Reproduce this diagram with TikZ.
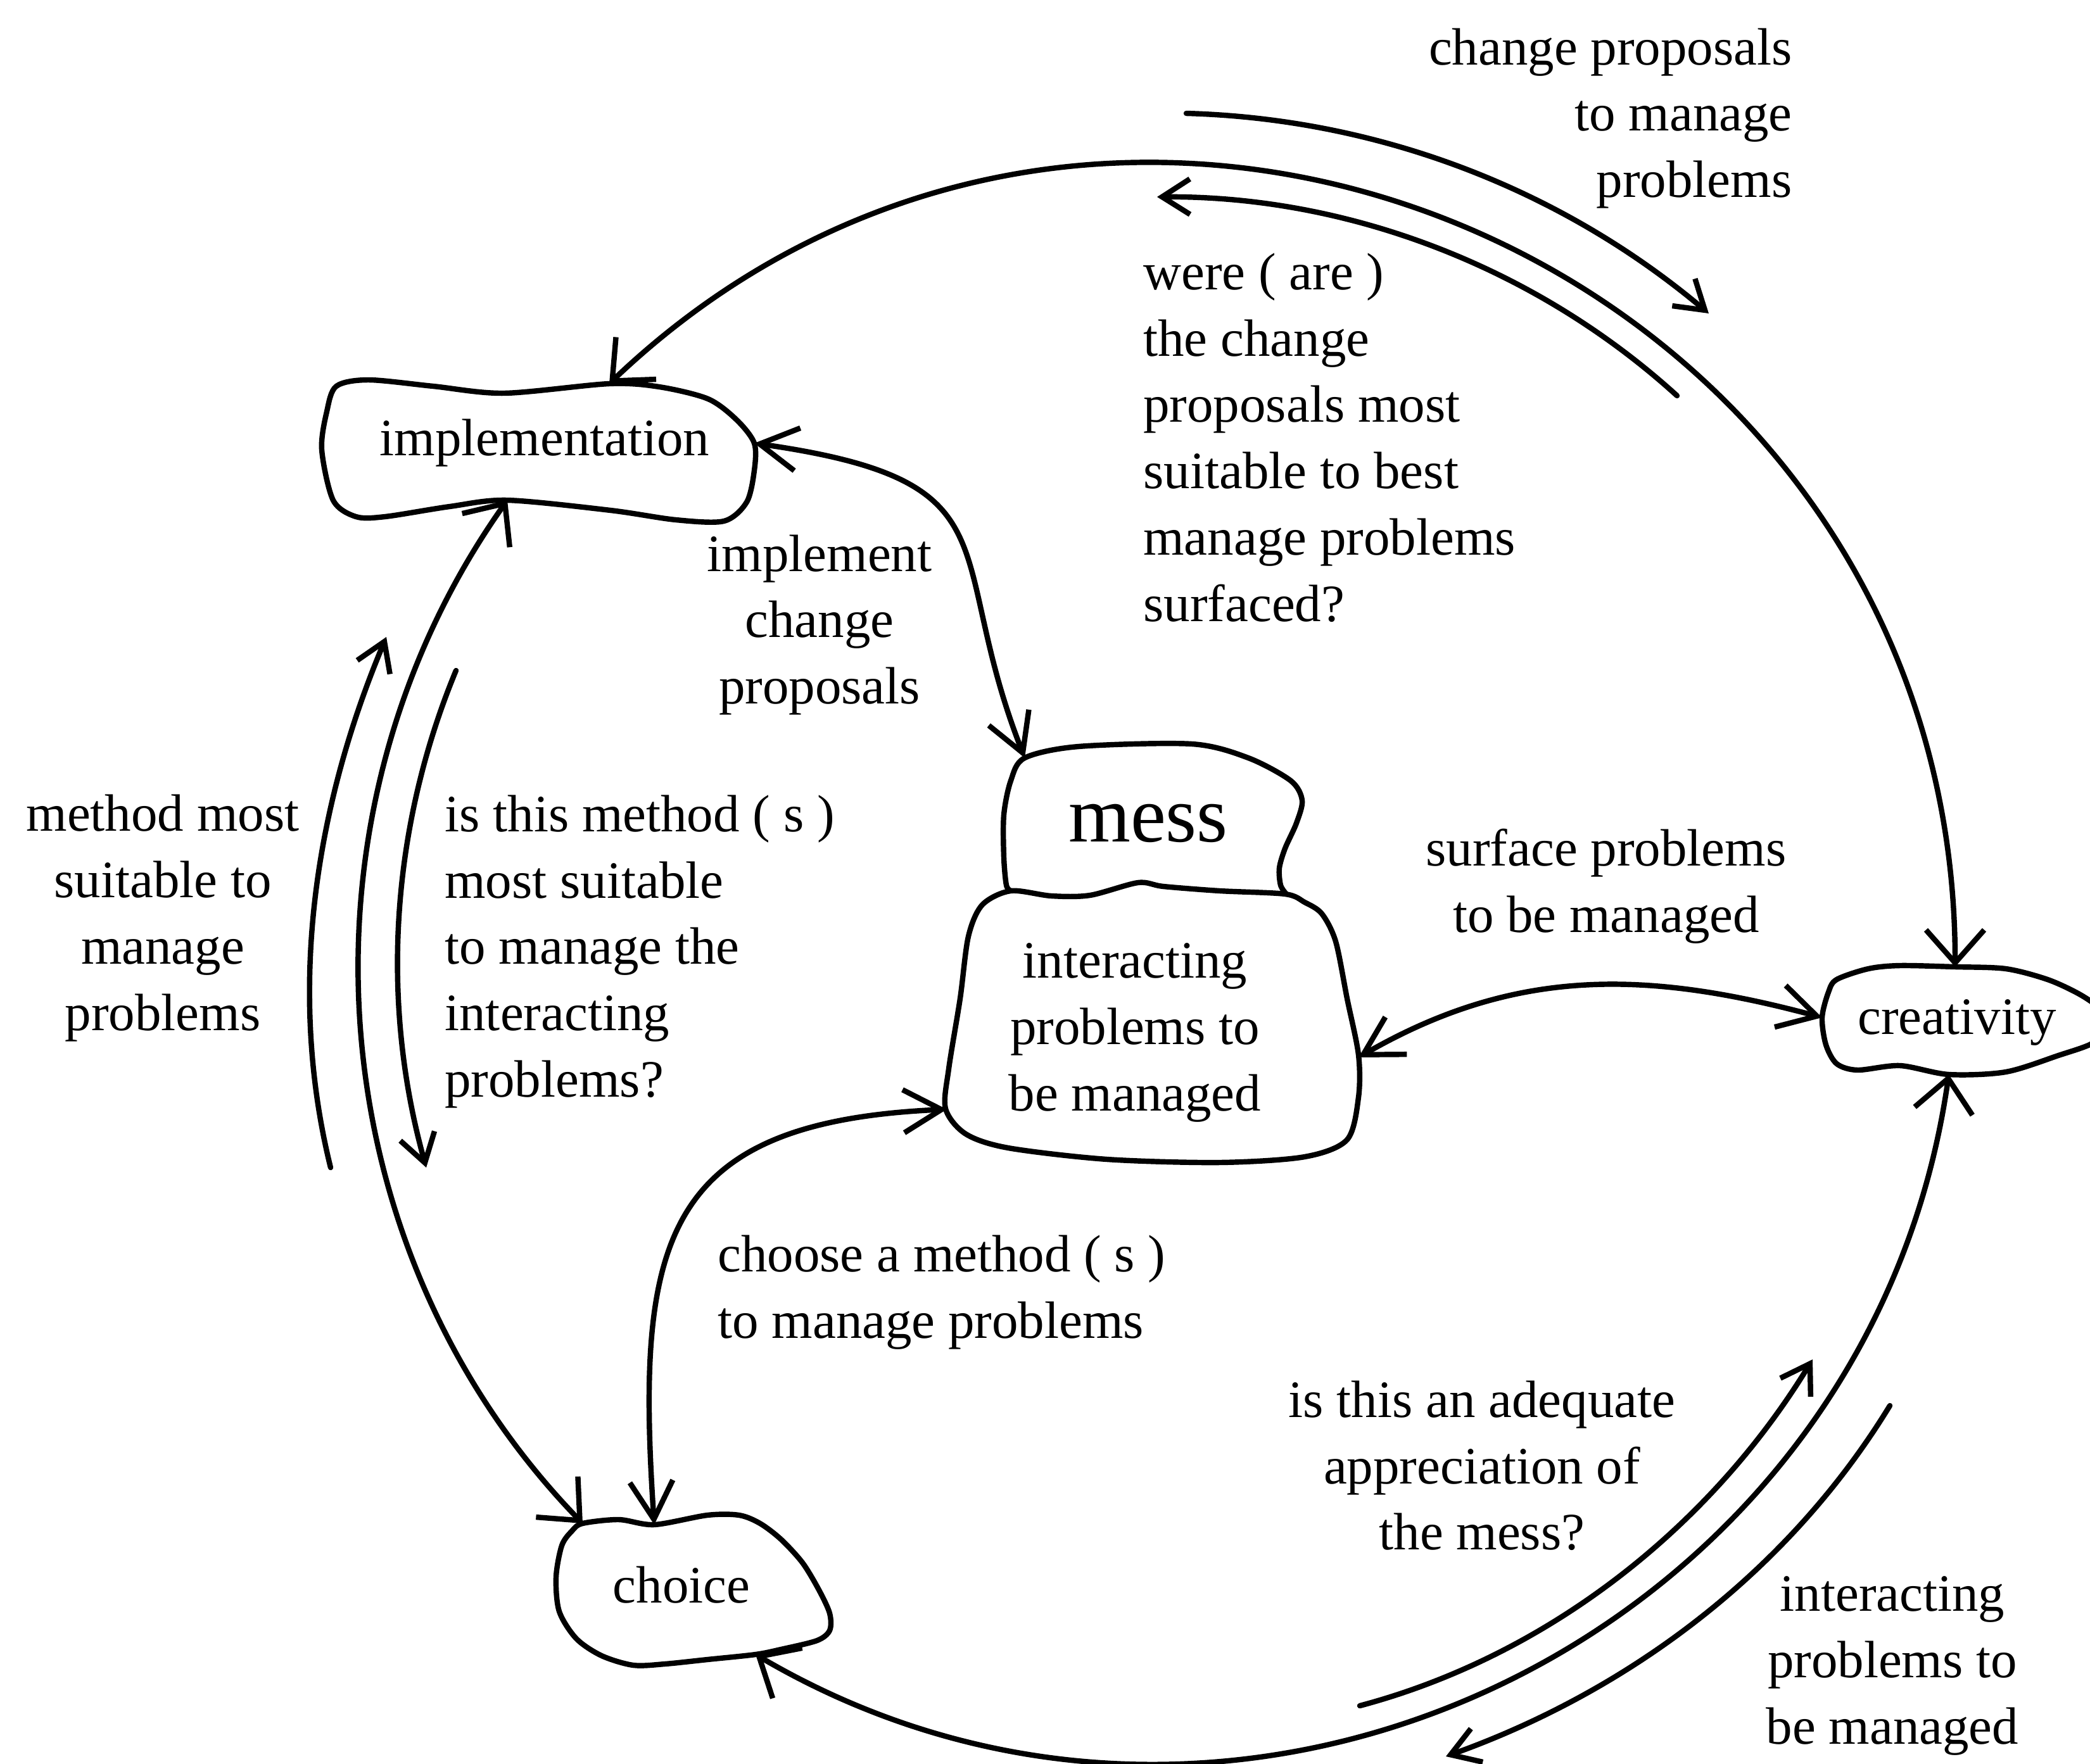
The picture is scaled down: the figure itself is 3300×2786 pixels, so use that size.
\documentclass[tikz,border=0pt]{standalone}
\usepackage{fontspec}
\setmainfont{Liberation Serif}
\usetikzlibrary{arrows.meta}

\tikzset{
  lbl/.style={inner sep=0pt, font=\fontsize{11.8}{14.9}\selectfont},
  blob/.style={line width=1.2pt, line join=round},
  ring/.style={line width=1.2pt, line cap=round, <->, >={Straight Barb[length=2.6mm,width=4.6mm]}},
  link/.style={line width=1.2pt, line cap=round, <->, >={Straight Barb[length=3mm,width=3.4mm]}},
  flow/.style={line width=1.2pt, line cap=round, ->, >={Straight Barb[length=2.2mm,width=2.8mm]}},
}

\begin{document}
\begin{tikzpicture}[x=0.05mm,y=-0.05mm]
\useasboundingbox (0,0) rectangle (3300,2786);

% Text Node
\node[lbl] (impl) at (860,700) {implementation};
% Text Node
\node[lbl,font=\fontsize{17.9}{20}\selectfont] (mess) at (1813,1300) {mess};
% Text Node
\node[lbl,align=center] (probs) at (1792,1631) {interacting\\problems to\\be managed};
% Text Node
\node[lbl] (creat) at (3090,1615) {creativity};
% Text Node
\node[lbl] (choice) at (1076,2503) {choice};

%Shape: Blob [id:implementation]
\begin{scope}[shift={(impl)}]
\draw[blob] plot[smooth cycle] coordinates {(-329,-90) (-278,-100) (-176,-90) (-64,-79) (102,-94) (181,-89) (258,-70) (303,-37) (331,0) (331,43) (319,93) (283,123) (207,121) (104,106) (-59,90) (-150,100) (-252,116) (-298,116) (-334,90) (-352,10) (-344,-50)};
\coordinate (impl-n) at (102,-94);
\coordinate (impl-e) at (331,0);
\coordinate (impl-s) at (-59,90);
\end{scope}

%Shape: Blob [id:mess]
\begin{scope}[shift={(mess)}]
\draw[blob] plot[smooth] coordinates {(-217,107) (-224,98) (-228,54) (-228,-13) (-217,-67) (-195,-103) (-110,-121) (69,-125) (158,-103) (225,-67) (243,-36) (234,0) (216,40) (207,71) (209,98) (218,112)};
\draw[blob] plot[smooth cycle] coordinates {(-217,107) (-153,115) (-92,114) (-16,94) (24,100) (113,107) (216,112) (247,125) (274,143) (296,187) (314,277) (332,366) (332,433) (314,500) (247,527) (113,536) (-65,531) (-221,513) (-288,491) (-320,451) (-315,388) (-297,277) (-284,179) (-262,129)};
\coordinate (mess-nw) at (-195,-103);
\coordinate (mess-sw) at (-318,452);
\coordinate (mess-e) at (332,370);
\end{scope}

%Shape: Blob [id:creativity]
\begin{scope}[shift={(creat)}]
\draw[blob] plot[smooth cycle] coordinates {(-190,-68) (-140,-85) (-90,-90) (-3,-88) (77,-85) (143,-68) (193,-45) (225,-22) (235,5) (215,32) (160,52) (77,78) (-13,82) (-90,68) (-157,75) (-190,65) (-207,35) (-213,-8) (-203,-48)};
\coordinate (creat-n) at (-3,-88);
\coordinate (creat-w) at (-213,-8);
\coordinate (creat-s) at (-13,82);
\end{scope}

%Shape: Blob [id:choice]
\begin{scope}[shift={(choice)}]
\draw[blob] plot[smooth cycle] coordinates {(-156,-97) (-99,-103) (-43,-95) (41,-110) (91,-110) (124,-97) (157,-72) (191,-35) (217,8) (234,45) (234,72) (214,88) (157,102) (117,110) (41,118) (-26,125) (-76,127) (-126,112) (-166,85) (-193,42) (-198,-12) (-189,-62) (-173,-85)};
\coordinate (choice-nw) at (-156,-97);
\coordinate (choice-n) at (-43,-95);
\coordinate (choice-se) at (117,110);
\end{scope}

%Curve Lines [id:ring]
\draw[ring] (impl-n) to[out=43.6,in=90,looseness=1.22] (creat-n);
\draw[ring] (impl-s) to[out=234.7,in=134.1,looseness=0.96] (choice-nw);
\draw[ring] (choice-se) to[out=329.6,in=261.9,looseness=1.09] (creat-s);

%Curve Lines [id:links]
\draw[link] (impl-e) .. controls +(420,60) and +(-130,-330) .. (mess-nw);
\draw[link] (mess-sw) .. controls +(-450,20) and +(-30,-450) .. (choice-n);
\draw[link] (mess-e) to[out=30,in=165] (creat-w);

% flow arrows beside the ring
\coordinate (cp-a) at (1873,179);  \coordinate (cp-b) at (2698,495);
\coordinate (wa-a) at (2648,625);  \coordinate (wa-b) at (1827,311);
\coordinate (mm-a) at (522,1844);  \coordinate (mm-b) at (610,1006);
\coordinate (im-a) at (720,1059);  \coordinate (im-b) at (673,1844);
\coordinate (ad-a) at (2147,2694); \coordinate (ad-b) at (2862,2147);
\coordinate (ip-a) at (2984,2220); \coordinate (ip-b) at (2283,2774);
\draw[flow] (cp-a) to[out=-1.6,in=139.9,looseness=0.88] (cp-b);
\draw[flow] (wa-a) to[out=137.7,in=0.4,looseness=0.88] (wa-b);
\draw[flow] (mm-a) to[out=103.9,in=247.2,looseness=0.88] (mm-b);
\draw[flow] (im-a) to[out=247.5,in=105.6,looseness=0.88] (im-b);
\draw[flow] (ad-a) to[out=14.9,in=238.6,looseness=0.88] (ad-b);
\draw[flow] (ip-a) to[out=-121.4,in=19.7,looseness=0.88] (ip-b);

% Text Node
\node[lbl,anchor=east,align=right] (cp-lbl) at (2831,187) {change proposals\\to manage\\problems};
% Text Node
\node[lbl,anchor=west,align=left] (wa-lbl) at (1804,691) {were ( are )\\the change\\proposals most\\suitable to best\\manage problems\\surfaced?};
% Text Node
\node[lbl,align=center] (ic-lbl) at (1294,987) {implement\\change\\proposals};
% Text Node
\node[lbl,align=center] (mm-lbl) at (257,1450) {method most\\suitable to\\manage\\problems};
% Text Node
\node[lbl,anchor=west,align=left] (im-lbl) at (701,1503) {is this method ( s )\\most suitable\\to manage the\\interacting\\problems?};
% Text Node
\node[lbl,align=center] (sp-lbl) at (2536,1400) {surface problems\\to be managed};
% Text Node
\node[lbl,anchor=west,align=left] (cm-lbl) at (1132,2041) {choose a method ( s )\\to manage problems};
% Text Node
\node[lbl,align=center] (ad-lbl) at (2340,2315) {is this an adequate\\appreciation of\\the mess?};
% Text Node
\node[lbl,align=center] (ip-lbl) at (2988,2631) {interacting\\problems to\\be managed};
\end{tikzpicture}
\end{document}
